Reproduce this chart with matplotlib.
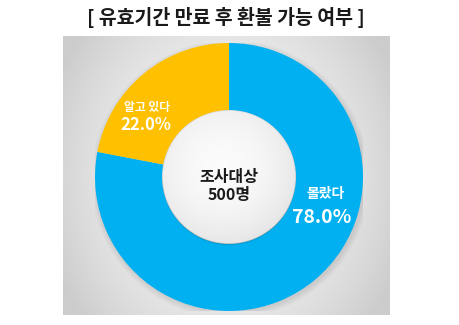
import numpy as np
import matplotlib
matplotlib.use('Agg')
import matplotlib.pyplot as plt
from matplotlib.patches import Circle

plt.rcParams['font.family'] = ['Noto Sans CJK KR', 'DejaVu Sans']

title = '[ 유효기간 만료 후 환불 가능 여부 ]'
labels = ['몰랐다', '알고 있다']
values = [78.0, 22.0]
colors = ['#00b0f0', '#ffc000']
center_text = '조사대상\n500명'

W, H = 460, 325
fig = plt.figure(figsize=(W / 100, H / 100), dpi=100)
fig.patch.set_facecolor('white')

fig.text(226 / W, 1 - 17 / H, title, ha='center', va='center',
         fontsize=14, fontweight='bold', color='#1a1a1a')

# gray panel with vignette
bx0, bx1, by0, by1 = 63, 390, 36, 315
bg = fig.add_axes([bx0 / W, 1 - by1 / H, (bx1 - bx0) / W, (by1 - by0) / H])
yy, xx = np.mgrid[-1:1:200j, -1:1:200j]
r = np.clip(np.sqrt(xx ** 2 + 0.5 * yy ** 2), 0, 1.15)
shade = 0.96 - 0.12 * r ** 2
bg.imshow(np.dstack([shade] * 3), aspect='auto', extent=[-1, 1, -1, 1])
bg.axis('off')

# donut
cx, cy, R = 229, 177, 134
ax = fig.add_axes([(cx - R) / W, 1 - (cy + R) / H, 2 * R / W, 2 * R / H])
ax.axis('off')

# soft shadow
for k in range(8):
    ax.add_patch(Circle((0.01, -0.015), 1.0 + 0.006 * k, color='black',
                        alpha=0.012, lw=0, zorder=0))

wedges, _ = ax.pie(values, colors=colors, startangle=90, counterclock=False,
                   radius=1.0, wedgeprops=dict(width=0.5, linewidth=0))
for w in wedges:
    w.set_zorder(1)

# inner shadow + center disc
for k in range(4):
    ax.add_patch(Circle((0, -0.012), 0.5 - 0.004 * k, color='black',
                        alpha=0.04, lw=0, zorder=2))
inner = Circle((0, 0.0), 0.495, transform=ax.transData)
iy, ix = np.mgrid[1:-1:120j, -1:1:120j]
ir = np.sqrt((ix + 0.1) ** 2 + (iy - 0.15) ** 2)
ishade = np.clip(0.985 - 0.06 * ir ** 2, 0, 1)
im = ax.imshow(np.dstack([ishade] * 3), extent=[-0.5, 0.5, -0.5, 0.5], zorder=3)
im.set_clip_path(inner)
ax.set_xlim(-1, 1)
ax.set_ylim(-1, 1)
ax.set_aspect('equal')

ax.text(0, -0.065, center_text, ha='center', va='center', fontsize=11.5,
        fontweight='bold', color='#1a1a1a', linespacing=1.15, zorder=4)

# slice labels
name_pos = [(0.72, -0.13), (-0.61, 0.52)]
pct_pos = [(0.69, -0.30), (-0.62, 0.39)]
name_size = [10, 8.5]
pct_size = [14, 12]
for i in range(len(values)):
    ax.text(*name_pos[i], labels[i], ha='center', va='center',
            fontsize=name_size[i], color='white', fontweight='bold', zorder=4)
    ax.text(*pct_pos[i], f'{values[i]:.1f}%', ha='center', va='center',
            fontsize=pct_size[i], color='white', fontweight='bold', zorder=4)

fig.savefig('out.png', dpi=100)
